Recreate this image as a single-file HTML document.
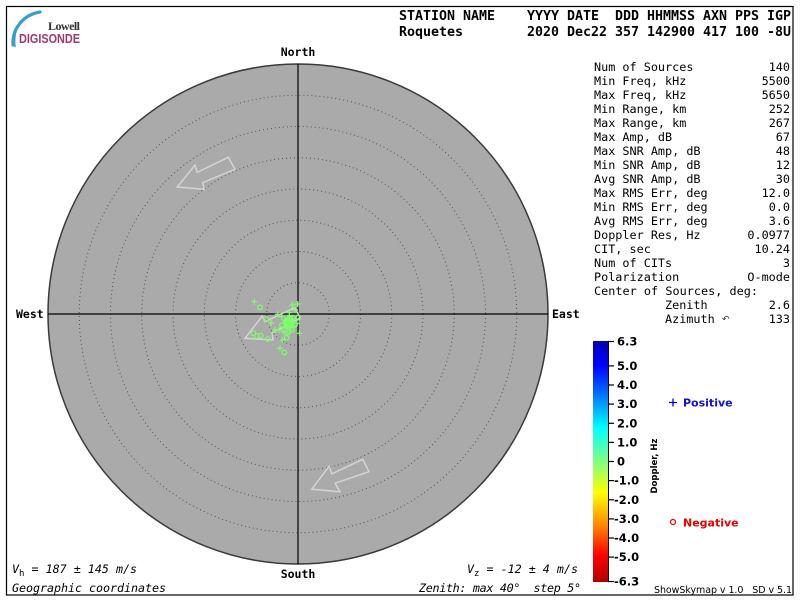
<!DOCTYPE html>
<html>
<head>
<meta charset="utf-8">
<style>
html,body{margin:0;padding:0;background:#fff;}
svg{display:block;}
text{white-space:pre;}
.mono{font-family:"DejaVu Sans Mono","Liberation Mono",monospace;}
.sans{font-family:"DejaVu Sans","Liberation Sans",sans-serif;}
</style>
</head>
<body>
<svg width="800" height="600" viewBox="0 0 800 600" xmlns="http://www.w3.org/2000/svg">
<defs>
<linearGradient id="jet" x1="0" y1="0" x2="0" y2="1">
<stop offset="0" stop-color="#0000b8"/>
<stop offset="0.10" stop-color="#0000ff"/>
<stop offset="0.22" stop-color="#0070ff"/>
<stop offset="0.36" stop-color="#00ffff"/>
<stop offset="0.50" stop-color="#80ff80"/>
<stop offset="0.63" stop-color="#ffff00"/>
<stop offset="0.76" stop-color="#ff8c00"/>
<stop offset="0.89" stop-color="#ff0000"/>
<stop offset="1" stop-color="#b00000"/>
</linearGradient>
</defs>
<rect x="0" y="0" width="800" height="600" fill="#fff"/>
<!-- frame -->
<rect x="6.5" y="6.5" width="786.5" height="588.5" fill="none" stroke="#000" stroke-width="1.2"/>

<!-- logo -->
<path d="M13,45 C12,30 22,15 40,12" fill="none" stroke="#3a9dcc" stroke-width="3.2" stroke-linecap="round"/>
<path d="M15,47 C14,40 15,35 16,31" fill="none" stroke="#3a9dcc" stroke-width="1.5"/>
<text x="48" y="30" font-family="'Liberation Serif',serif" font-size="12" font-weight="bold" fill="#333" textLength="32">Lowell</text>
<text x="19" y="43" font-family="'Liberation Sans',sans-serif" font-size="12.5" font-weight="bold" fill="#a0386c" textLength="61" lengthAdjust="spacingAndGlyphs">DIGISONDE</text>

<!-- header -->
<text class="mono" x="399" y="20" font-size="13.3" font-weight="bold" textLength="392">STATION NAME    YYYY DATE  DDD HHMMSS AXN PPS IGP</text>
<text class="mono" x="399" y="36" font-size="13.3" font-weight="bold" textLength="392">Roquetes        2020 Dec22 357 142900 417 100 -8U</text>

<!-- skymap -->
<circle cx="298" cy="314" r="250" fill="#aaaaaa" stroke="#3a3a3a" stroke-width="1.5"/>
<g fill="none" stroke="#555" stroke-width="1" stroke-dasharray="1 3">
<circle cx="298" cy="314" r="31.25"/>
<circle cx="298" cy="314" r="62.5"/>
<circle cx="298" cy="314" r="93.75"/>
<circle cx="298" cy="314" r="125"/>
<circle cx="298" cy="314" r="156.25"/>
<circle cx="298" cy="314" r="187.5"/>
<circle cx="298" cy="314" r="218.75"/>
</g>
<line x1="298" y1="64" x2="298" y2="564" stroke="#000" stroke-width="1.2"/>
<line x1="48" y1="314" x2="548" y2="314" stroke="#000" stroke-width="1.2"/>

<!-- arrows -->
<g fill="none" stroke="#d4d4d4" stroke-width="1.5" stroke-linejoin="miter">
<polygon points="177.3,187 195,165 197.3,172.3 228.3,157.3 235,169.3 202.7,182.7 204.3,189.3"/>
<polygon points="311.7,489.3 329.3,466 331.7,474 362.7,459.3 369,471.7 335,483.3 340,491.7"/>
<polygon points="245,338.3 262.3,316 265,321.7 295,307.5 300,318 272,333 273,340"/>
</g>

<!-- data points -->
<g stroke="#7dff6a" stroke-width="1.2" fill="none">
<path d="M251.3,301.7h6M254.3,298.7v6"/>
<circle cx="260" cy="307.3" r="2.3"/>
<path d="M289.3,305h6M292.3,302v6"/>
<path d="M294.7,304h6M297.7,301v6"/>
<path d="M274.7,314.3h6M277.7,311.3v6"/>
<path d="M278.7,316.7h6M281.7,313.7v6"/>
<path d="M286.3,312.7h6M289.3,309.7v6"/>
<circle cx="265.7" cy="319" r="2.3"/>
<circle cx="298.3" cy="317.7" r="2.3"/>
<path d="M272,330h6M275,327v6"/>
<path d="M276,330h6M279,327v6"/>
<circle cx="253.3" cy="333.3" r="2.3"/>
<circle cx="256.7" cy="336" r="2.3"/>
<circle cx="260.7" cy="335.7" r="2.3"/>
<circle cx="267.7" cy="339" r="2.3"/>
<path d="M296.3,333.3h6M299.3,330.3v6"/>
<path d="M279.3,340h6M282.3,337v6"/>
<path d="M277,348.3h6M280,345.3v6"/>
<circle cx="284.3" cy="352.3" r="2.3"/>
<circle cx="286.7" cy="337.7" r="2.3"/>
<path d="M290.3,326h6M293.3,323v6"/>
<path d="M294,323.3h6M297,320.3v6"/>
<path d="M282,320h6M285,317v6"/>
<path d="M284,324h6M287,321v6"/>
<path d="M286,318h6M289,315v6"/>
<path d="M288,322h6M291,319v6"/>
<path d="M283,328h6M286,325v6"/>
<path d="M287,330h6M290,327v6"/>
<path d="M281,332h6M284,329v6"/>
<path d="M285,334h6M288,331v6"/>
<path d="M292,310h6M295,307v6"/>
<path d="M268,323h6M271,320v6"/>
<circle cx="290" cy="320" r="2.3"/>
<circle cx="293" cy="318" r="2.3"/>
<circle cx="288" cy="326" r="2.3"/>
<circle cx="292" cy="330" r="2.3"/>
<circle cx="284" cy="330" r="2.3"/>
<circle cx="282" cy="325" r="2.3"/>
<circle cx="295" cy="325" r="2.3"/>
<circle cx="286" cy="322" r="2.3"/>
</g>
<g fill="#7dff6a">
<rect x="285" y="318" width="9" height="10"/>
<rect x="287" y="315" width="6" height="4"/>
</g>

<!-- compass labels -->
<text class="mono" x="298" y="56" font-size="11.5" font-weight="bold" text-anchor="middle">North</text>
<text class="mono" x="298" y="578" font-size="11.5" font-weight="bold" text-anchor="middle">South</text>
<text class="mono" x="16" y="318" font-size="11.5" font-weight="bold">West</text>
<text class="mono" x="552" y="318" font-size="11.5" font-weight="bold">East</text>

<!-- bottom texts -->
<text class="mono" x="12" y="573" font-size="11.7" font-style="italic">V<tspan font-style="normal" font-size="9" dy="3">h</tspan><tspan dy="-3"> = 187 ± 145 m/s</tspan></text>
<text class="mono" x="12" y="592" font-size="11.7" font-style="italic" textLength="154">Geographic coordinates</text>
<text class="mono" x="467" y="573" font-size="11.7" font-style="italic">V<tspan font-style="normal" font-size="9" dy="3">z</tspan><tspan dy="-3"> = -12 ± 4 m/s</tspan></text>
<text class="mono" x="419" y="592" font-size="11.7" font-style="italic" textLength="162">Zenith: max 40°  step 5°</text>

<!-- stats -->
<g class="mono" font-size="11.8" fill="#000">
<text x="594" y="71">Num of Sources</text><text x="790" y="71" text-anchor="end">140</text>
<text x="594" y="85">Min Freq, kHz</text><text x="790" y="85" text-anchor="end">5500</text>
<text x="594" y="99">Max Freq, kHz</text><text x="790" y="99" text-anchor="end">5650</text>
<text x="594" y="113">Min Range, km</text><text x="790" y="113" text-anchor="end">252</text>
<text x="594" y="127">Max Range, km</text><text x="790" y="127" text-anchor="end">267</text>
<text x="594" y="141">Max Amp, dB</text><text x="790" y="141" text-anchor="end">67</text>
<text x="594" y="155">Max SNR Amp, dB</text><text x="790" y="155" text-anchor="end">48</text>
<text x="594" y="169">Min SNR Amp, dB</text><text x="790" y="169" text-anchor="end">12</text>
<text x="594" y="183">Avg SNR Amp, dB</text><text x="790" y="183" text-anchor="end">30</text>
<text x="594" y="197">Max RMS Err, deg</text><text x="790" y="197" text-anchor="end">12.0</text>
<text x="594" y="211">Min RMS Err, deg</text><text x="790" y="211" text-anchor="end">0.0</text>
<text x="594" y="225">Avg RMS Err, deg</text><text x="790" y="225" text-anchor="end">3.6</text>
<text x="594" y="239">Doppler Res, Hz</text><text x="790" y="239" text-anchor="end">0.0977</text>
<text x="594" y="253">CIT, sec</text><text x="790" y="253" text-anchor="end">10.24</text>
<text x="594" y="267">Num of CITs</text><text x="790" y="267" text-anchor="end">3</text>
<text x="594" y="281">Polarization</text><text x="790" y="281" text-anchor="end">O-mode</text>
<text x="594" y="295" textLength="164">Center of Sources, deg:</text>
<text x="665" y="309">Zenith</text><text x="790" y="309" text-anchor="end">2.6</text>
<text x="665" y="323">Azimuth</text><text x="790" y="323" text-anchor="end">133</text>
</g>
<text x="722" y="322" font-family="'DejaVu Sans',sans-serif" font-size="9" fill="#333">↶</text>

<!-- colorbar -->
<rect x="593" y="341" width="15" height="241" fill="url(#jet)"/>
<line x1="608.5" y1="341" x2="608.5" y2="582" stroke="#000" stroke-width="1"/>
<g stroke="#000" stroke-width="1.2">
<line x1="608" y1="341.5" x2="614" y2="341.5"/>
<line x1="608" y1="365.9" x2="614" y2="365.9"/>
<line x1="608" y1="385" x2="614" y2="385"/>
<line x1="608" y1="404.1" x2="614" y2="404.1"/>
<line x1="608" y1="423.3" x2="614" y2="423.3"/>
<line x1="608" y1="442.4" x2="614" y2="442.4"/>
<line x1="608" y1="461.5" x2="614" y2="461.5"/>
<line x1="608" y1="480.6" x2="614" y2="480.6"/>
<line x1="608" y1="499.8" x2="614" y2="499.8"/>
<line x1="608" y1="518.9" x2="614" y2="518.9"/>
<line x1="608" y1="538" x2="614" y2="538"/>
<line x1="608" y1="557.1" x2="614" y2="557.1"/>
<line x1="608" y1="581.5" x2="614" y2="581.5"/>
</g>
<g class="sans" font-size="11.5" font-weight="bold" fill="#000">
<text x="617" y="345.5">6.3</text>
<text x="617" y="370">5.0</text>
<text x="617" y="389">4.0</text>
<text x="617" y="408">3.0</text>
<text x="617" y="427.5">2.0</text>
<text x="617" y="446.5">1.0</text>
<text x="617" y="465.5">0</text>
<text x="614" y="484.5">-1.0</text>
<text x="614" y="504">-2.0</text>
<text x="614" y="523">-3.0</text>
<text x="614" y="542">-4.0</text>
<text x="614" y="561">-5.0</text>
<text x="614" y="585.5">-6.3</text>
</g>
<text class="sans" font-size="8.5" font-weight="bold" transform="translate(657,466) rotate(-90)" text-anchor="middle" textLength="55">Doppler, Hz</text>

<!-- legend -->
<path d="M669,402.5h8M673,398.5v8" stroke="#0000dd" stroke-width="1.3"/>
<text class="sans" x="683" y="406.5" font-size="11" font-weight="bold" fill="#1010e0">Positive</text>
<circle cx="673" cy="522" r="2.5" fill="none" stroke="#ee0000" stroke-width="1.2"/>
<text class="sans" x="683" y="526.5" font-size="11" font-weight="bold" fill="#ee0000">Negative</text>

<text class="sans" x="654" y="593" font-size="9.5" textLength="138">ShowSkymap v 1.0   SD v 5.1</text>
</svg>
</body>
</html>
